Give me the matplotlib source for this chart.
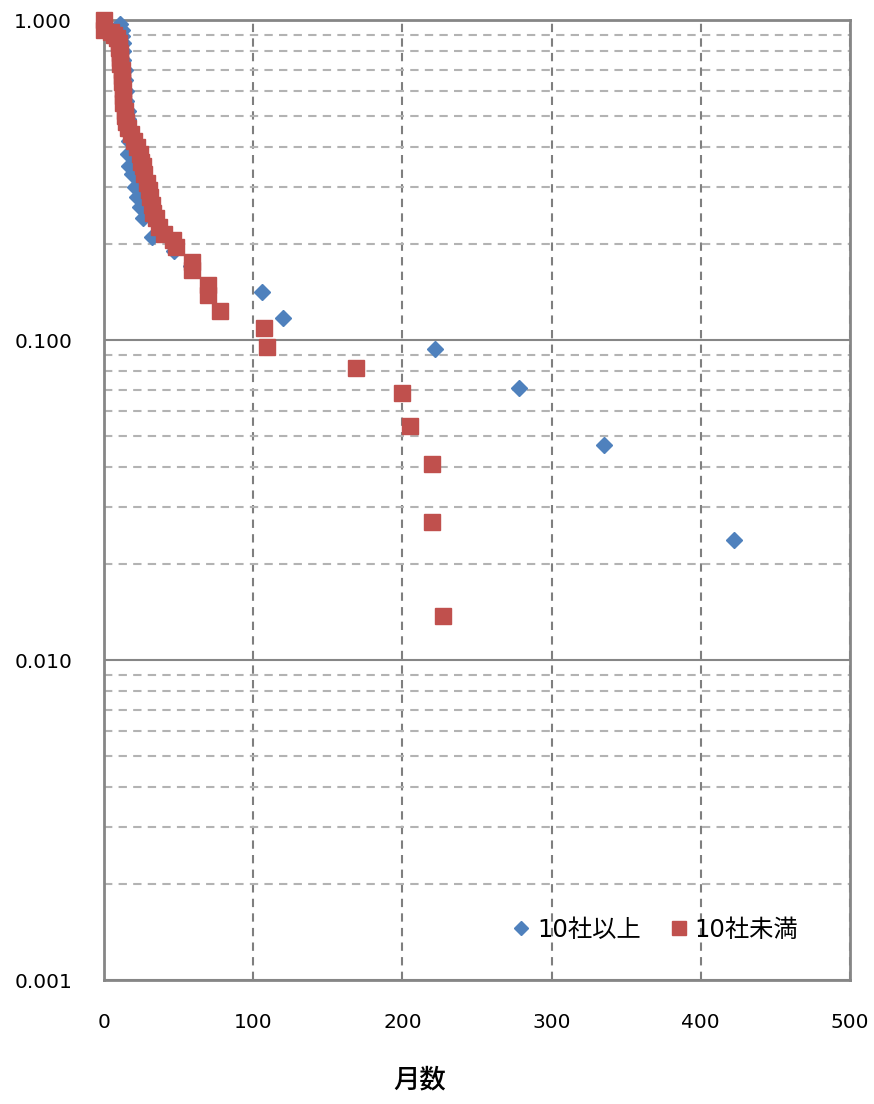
import matplotlib
matplotlib.use("Agg")
import matplotlib.pyplot as plt
from matplotlib.ticker import FixedLocator, NullFormatter

plt.rcParams['font.family'] = ['Noto Sans CJK JP', 'DejaVu Sans']

series_names = ["10社以上", "10社未満"]

blue_x = [11, 12, 12, 13, 13, 13, 14, 14, 15, 15, 16, 16, 17, 17, 16, 17, 19, 21, 22, 24,
          26, 32, 47, 58, 106, 120, 222, 278, 335, 422]
blue_y = [0.97, 0.93, 0.89, 0.85, 0.80, 0.75, 0.70, 0.65, 0.60, 0.56, 0.52, 0.49, 0.45, 0.42,
          0.38, 0.35, 0.33, 0.30, 0.28, 0.26, 0.24, 0.21, 0.19, 0.17, 0.141, 0.117, 0.094,
          0.071, 0.047, 0.0237]

red_x = [0, 0, 5, 7, 9, 10, 10, 11, 11, 11, 12, 12, 12, 13, 13, 13, 14, 14, 15, 16, 18, 20,
         22, 24, 25, 26, 27, 29, 30, 31, 32, 33, 35, 37, 40, 46, 48, 59, 59, 70, 70, 78, 107,
         109, 169, 200, 205, 220, 220, 227]
red_y = [1.0, 0.93, 0.92, 0.90, 0.88, 0.85, 0.82, 0.79, 0.76, 0.73, 0.70, 0.67, 0.64, 0.61,
         0.58, 0.55, 0.52, 0.50, 0.48, 0.46, 0.44, 0.42, 0.40, 0.38, 0.36, 0.35, 0.33, 0.31,
         0.295, 0.28, 0.265, 0.25, 0.24, 0.225, 0.215, 0.205, 0.195, 0.175, 0.166, 0.149,
         0.138, 0.123, 0.109, 0.095, 0.082, 0.0685, 0.054, 0.041, 0.027, 0.0137]

x_ticks = [0, 100, 200, 300, 400, 500]
y_ticks = [0.001, 0.01, 0.1, 1.0]
y_tick_labels = ["0.001", "0.010", "0.100", "1.000"]
x_label = "月数"

fig = plt.figure(figsize=(8.74, 11.04), dpi=100)
ax = fig.add_axes([104/874, 1-980/1104, (850-104)/874, (980-20)/1104])

ax.set_yscale('log')
ax.set_xlim(0, 500)
ax.set_ylim(0.001, 1.0)

ax.plot(blue_x, blue_y, linestyle='none', marker='D', markersize=8, color='#4F81BD',
        label=series_names[0], zorder=3, clip_on=False)
ax.plot(red_x, red_y, linestyle='none', marker='s', markersize=11, color='#C0504D',
        label=series_names[1], zorder=4, clip_on=False)

ax.yaxis.set_major_locator(FixedLocator(y_ticks))
ax.set_yticklabels(y_tick_labels)
minor = [m * 10.0**e for e in (-3, -2, -1) for m in range(2, 10)]
ax.yaxis.set_minor_locator(FixedLocator(minor))
ax.yaxis.set_minor_formatter(NullFormatter())
ax.set_xticks(x_ticks)

ax.tick_params(axis='both', which='both', length=0)
ax.tick_params(axis='y', pad=23, labelsize=14.5)
ax.tick_params(axis='x', pad=24, labelsize=14.5)
for lbl in ax.get_xticklabels() + ax.get_yticklabels():
    lbl.set_family('DejaVu Sans')

ax.grid(True, axis='y', which='major', color='#868686', linewidth=1.5, linestyle='-', zorder=1)
ax.grid(True, axis='y', which='minor', color='#B3B3B3', linewidth=1.5, linestyle=(0, (4, 3)), zorder=1)
ax.grid(True, axis='x', which='major', color='#7F7F7F', linewidth=1.5, linestyle=(0, (4, 3)), zorder=1)
ax.set_axisbelow(True)

for s in ax.spines.values():
    s.set_color('#868686')
    s.set_linewidth(2)

fig.text(420/874, 1-1080/1104, x_label, fontsize=19, fontweight='medium', ha='center', va='center')

fig.legend(loc='center', bbox_to_anchor=(653/874, 1-930/1104), ncol=2, frameon=False,
           prop={'family': ['DejaVu Sans', 'Noto Sans CJK JP'], 'size': 17.5},
           handletextpad=0.1, columnspacing=1.0, markerscale=0.9, handlelength=1.1)

fig.savefig('out.png', dpi=100)
